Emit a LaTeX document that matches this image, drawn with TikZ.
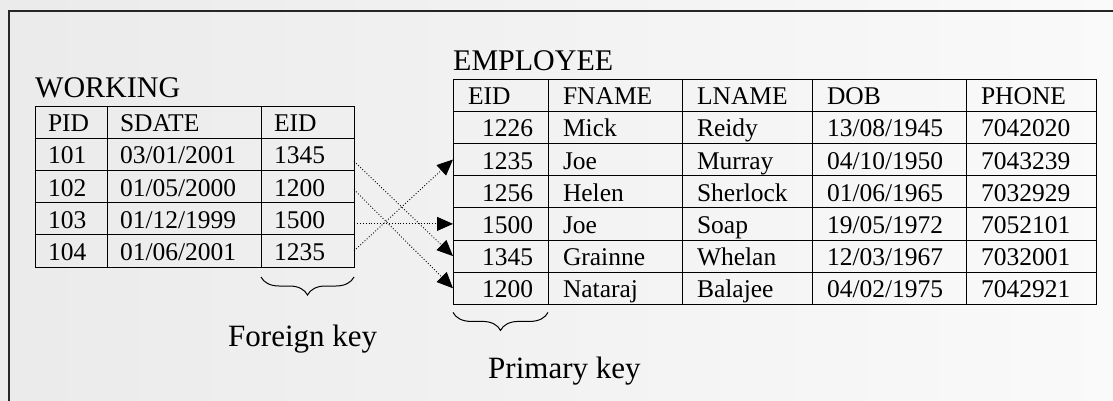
\documentclass[tikz,border=0pt]{standalone}
\usepackage{fontspec}
\setmainfont{Liberation Serif}
\usetikzlibrary{arrows.meta,decorations.pathreplacing}

\begin{document}
\begin{tikzpicture}[x=1pt,y=-1pt,
		cell/.style={draw,line width=0.9pt,outer sep=0pt,inner ysep=0pt,inner xsep=13pt,text width=#1,align=left,anchor=north west,text height=25.7pt,text depth=6.5pt,font=\fontsize{25.5}{30}\selectfont},
		ecell/.style={cell=#1,inner xsep=15pt},
		heading/.style={anchor=base west,inner sep=0pt,font=\fontsize{30}{36}\selectfont},
		keylabel/.style={anchor=base west,inner sep=0pt,font=\fontsize{31}{37}\selectfont},
		link/.style={dotted,line width=0.9pt,-{Triangle[length=16pt,width=14pt]}},
		keybrace/.style={decorate,decoration={brace,mirror,amplitude=18pt},line width=1pt}]
			\useasboundingbox (0,0) rectangle (1113,401);
			\shade[left color=black!8,right color=black!2] (0,0) rectangle (1113,401);
			\draw[line width=1.2pt,black!85] (9,401) -- (9,11) -- (1113,11);
			% WORKING
			\node[heading] (wtitle) at (35,97.5) {WORKING};
			\node[cell=46pt] (wp0) at (35,106) {PID};
			\node[cell=128pt] (wd0) at (107,106) {SDATE};
			\node[cell=67pt] (we0) at (261,106) {EID};
			\foreach \r/\p/\d/\e in {1/101/{03/01/2001}/1345,2/102/{01/05/2000}/1200,3/103/{01/12/1999}/1500,4/104/{01/06/2001}/1235}{
				\node[cell=46pt] (wp\r) at (35,{106+32.2*\r}) {\p};
				\node[cell=128pt] (wd\r) at (107,{106+32.2*\r}) {\d};
				\node[cell=67pt] (we\r) at (261,{106+32.2*\r}) {\e};
			}
			% EMPLOYEE
			\node[heading] (etitle) at (453,71) {EMPLOYEE};
			\node[ecell=65pt] (ee0) at (453,79) {EID};
			\node[ecell=104pt] (ef0) at (548,79) {FNAME};
			\node[ecell=100pt] (el0) at (682,79) {LNAME};
			\node[ecell=124pt] (ed0) at (812,79) {DOB};
			\node[ecell=100pt] (eh0) at (966,79) {PHONE};
			\foreach \r/\e/\f/\l/\d/\p in {1/1226/Mick/Reidy/{13/08/1945}/7042020,2/1235/Joe/Murray/{04/10/1950}/7043239,3/1256/Helen/Sherlock/{01/06/1965}/7032929,4/1500/Joe/Soap/{19/05/1972}/7052101,5/1345/Grainne/Whelan/{12/03/1967}/7032001,6/1200/Nataraj/Balajee/{04/02/1975}/7042921}{
				\node[ecell=65pt,align=right] (ee\r) at (453,{79+32.2*\r}) {\e};
				\node[ecell=104pt] (ef\r) at (548,{79+32.2*\r}) {\f};
				\node[ecell=100pt] (el\r) at (682,{79+32.2*\r}) {\l};
				\node[ecell=124pt] (ed\r) at (812,{79+32.2*\r}) {\d};
				\node[ecell=100pt] (eh\r) at (966,{79+32.2*\r}) {\p};
			}
			% foreign key links
			\draw[link] ([yshift=-7pt]we1.east) -- (ee5.west);
			\draw[link] ([yshift=-3pt]we2.east) -- (ee6.west);
			\draw[link] (we3.east |- ee4.west) -- (ee4.west);
			\draw[link] (we4.east) -- (ee2.west);
			\draw[keybrace] ([yshift=-10pt]we4.south west) -- ([yshift=-10pt]we4.south east);
			\draw[keybrace] ([yshift=-8pt]ee6.south west) -- ([yshift=-8pt]ee6.south east);
			\node[keylabel] (fk) at (228,346) {Foreign key};
			\node[keylabel] (pk) at (488,378) {Primary key};
		\end{tikzpicture}
\end{document}
